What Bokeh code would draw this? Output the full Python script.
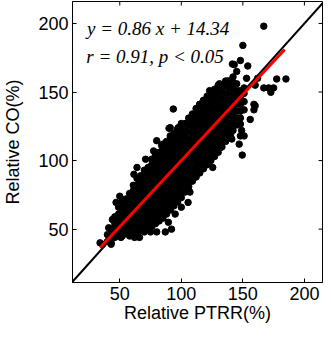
from bokeh.plotting import figure
from bokeh.models import Range1d, FixedTicker, Label
from bokeh.embed import file_html
from bokeh.resources import INLINE

# Axis ticks and ranges
tick_values = [50, 100, 150, 200]
x_lo, x_hi = 11.6, 214.7
y_lo, y_hi = 11.1, 216.0

# Dense core of the scatter cloud: (x, list of y values)
core_columns = [
    (36, [39]),
    (40, [41, 46]),
    (43, [40, 45, 50]),
    (46, [44, 49, 54, 59]),
    (49, [46, 51, 56, 61, 66]),
    (52, [45, 50, 55, 60, 65, 70]),
    (55, [47, 52, 57, 62, 67, 72]),
    (58, [46, 51, 56, 61, 66, 71, 76]),
    (61, [48, 53, 58, 63, 68, 73, 78, 82]),
    (64, [47, 52, 57, 62, 67, 72, 77, 82, 87]),
    (67, [49, 54, 59, 64, 69, 74, 79, 84, 89]),
    (70, [48, 53, 58, 63, 68, 73, 78, 83, 88, 93]),
    (73, [50, 55, 60, 65, 70, 75, 80, 85, 90, 95]),
    (76, [52, 57, 62, 67, 72, 77, 82, 87, 92, 97, 101]),
    (79, [54, 59, 64, 69, 74, 79, 84, 89, 94, 99, 104]),
    (82, [56, 61, 66, 71, 76, 81, 86, 91, 96, 101, 106]),
    (85, [58, 63, 68, 73, 78, 83, 88, 93, 98, 103, 108, 112]),
    (88, [61, 66, 71, 76, 81, 86, 91, 96, 101, 106, 110, 114]),
    (91, [64, 69, 74, 79, 84, 89, 94, 99, 104, 109, 114, 118]),
    (94, [67, 72, 77, 82, 87, 92, 97, 102, 107, 112, 117, 120]),
    (97, [70, 75, 80, 85, 90, 95, 100, 105, 110, 115, 120, 123]),
    (100, [73, 78, 83, 88, 93, 98, 103, 108, 113, 118, 123, 127]),
    (103, [77, 82, 87, 92, 97, 102, 107, 112, 117, 122, 127]),
    (106, [81, 86, 91, 96, 101, 106, 111, 116, 121, 126, 131]),
    (109, [85, 90, 95, 100, 105, 110, 115, 120, 125, 130, 134]),
    (112, [88, 93, 98, 103, 108, 113, 118, 123, 128, 133, 138]),
    (115, [91, 96, 101, 106, 111, 116, 121, 126, 131, 136, 141]),
    (118, [94, 99, 104, 109, 114, 119, 124, 129, 134, 139, 144]),
    (121, [97, 102, 107, 112, 117, 122, 127, 132, 137, 142, 147]),
    (124, [100, 105, 110, 115, 120, 125, 130, 135, 140, 145, 150]),
    (127, [103, 108, 113, 118, 123, 128, 133, 138, 143, 148, 152]),
    (130, [106, 111, 116, 121, 126, 131, 136, 141, 146, 151, 155]),
    (133, [110, 115, 120, 125, 130, 135, 140, 145, 150, 155]),
    (136, [114, 119, 124, 129, 134, 139, 144, 149, 154, 158]),
    (139, [118, 123, 128, 133, 138, 143, 148, 153, 158]),
    (142, [122, 127, 132, 137, 142, 147, 152, 157, 161]),
    (145, [126, 131, 136, 141, 146, 151, 156]),
    (148, [131, 136, 141, 146, 151]),
    (151, [137, 143, 149]),
]

# Scattered points around the core
outlier_x = [167, 150, 148, 154, 141.5, 177.5, 185, 171, 175, 167, 172.7, 160,
             156, 149, 148, 147, 149.5, 93.5, 90, 80, 64, 61.5, 47, 50, 53.5,
             44, 41, 34, 43, 43, 51, 58, 62, 66, 75, 80, 87, 92, 89.5, 95, 100,
             105.5, 107, 105.5, 112, 125.5, 120, 141, 140, 132, 151, 159, 159,
             148, 151, 143, 137.5, 131, 123, 115, 97.5, 91, 84, 71, 77.5, 153,
             160, 145, 162]
outlier_y = [198, 184, 173, 169, 170.4, 159.5, 159.5, 153, 153, 153, 149.8, 140,
             130, 122, 118, 112, 104, 137.6, 123.5, 114.5, 95, 90, 69.5, 74, 63.4,
             57, 51, 40, 39, 44, 44, 45, 44, 44, 48, 48, 48, 50, 55, 61, 66,
             69.5, 77, 84, 89.5, 95, 97, 115.7, 119, 109.6, 153, 141, 137,
             126.6, 118, 170, 158, 156, 151, 141, 124, 124, 111, 101, 107, 160,
             155, 165, 160]

# 1:1 reference line and fitted line end points
one_to_one = [0, 250]
fit_x = [34, 184]
fit_y = [36.5, 181]

eq_text = "y = 0.86 x + 14.34"
stat_text = "r = 0.91, p < 0.05"

cloud_x = [x for x, ys in core_columns for _ in ys] + outlier_x
cloud_y = [y for _, ys in core_columns for y in ys] + outlier_y

FONT = "Liberation Sans"
W, H = 323, 327
LEFT, RIGHT, TOP, BOTTOM = 68, 1, 1, 45
FRAME_W, FRAME_H = W - LEFT - RIGHT, H - TOP - BOTTOM
TICK_PX = 4

p = figure(width=W, height=H, output_backend="svg", toolbar_location=None,
           x_range=Range1d(x_lo, x_hi), y_range=Range1d(y_lo, y_hi),
           min_border_left=LEFT, min_border_top=TOP, min_border_right=RIGHT,
           min_border_bottom=BOTTOM, x_axis_label="Relative PTRR(%)",
           y_axis_label="Relative CO(%)")
p.grid.visible = False
p.outline_line_color = "black"
p.outline_line_width = 1
p.background_fill_color = "white"
p.border_fill_color = "white"

for ax in [p.xaxis[0], p.yaxis[0]]:
    ax.ticker = FixedTicker(ticks=tick_values)
    ax.major_tick_in = TICK_PX
    ax.major_tick_out = 0
    ax.minor_tick_line_color = None
    ax.axis_line_color = "black"
    ax.major_tick_line_color = "black"
    ax.major_label_text_font = FONT
    ax.major_label_text_font_size = "18px"
    ax.major_label_text_color = "black"
    ax.axis_label_text_font = FONT
    ax.axis_label_text_font_size = "18px"
    ax.axis_label_text_font_style = "normal"
    ax.axis_label_text_color = "black"
p.xaxis[0].major_label_standoff = 4
p.xaxis[0].axis_label_standoff = 0
p.yaxis[0].major_label_standoff = 4
p.yaxis[0].axis_label_standoff = 12

# Inward ticks on the top and right edges of the box
dy = TICK_PX * (y_hi - y_lo) / FRAME_H
dx = TICK_PX * (x_hi - x_lo) / FRAME_W
p.segment(x0=tick_values, x1=tick_values, y0=[y_hi] * len(tick_values),
          y1=[y_hi - dy] * len(tick_values), line_color="black", line_width=1)
p.segment(x0=[x_hi] * len(tick_values), x1=[x_hi - dx] * len(tick_values),
          y0=tick_values, y1=tick_values, line_color="black", line_width=1)

p.scatter(cloud_x, cloud_y, size=6.5, color="black")
p.line(one_to_one, one_to_one, line_color="black", line_width=2)
p.line(fit_x, fit_y, line_color="red", line_width=3)

p.add_layout(Label(x=23.4, y=196.5, text=eq_text, text_font="Liberation Serif",
                   text_font_style="italic", text_font_size="19px",
                   text_color="black", text_baseline="alphabetic"))
p.add_layout(Label(x=22.8, y=176.0, text=stat_text, text_font="Liberation Serif",
                   text_font_style="italic", text_font_size="19px",
                   text_color="black", text_baseline="alphabetic"))

open("out.html", "w").write(file_html(p, INLINE))
